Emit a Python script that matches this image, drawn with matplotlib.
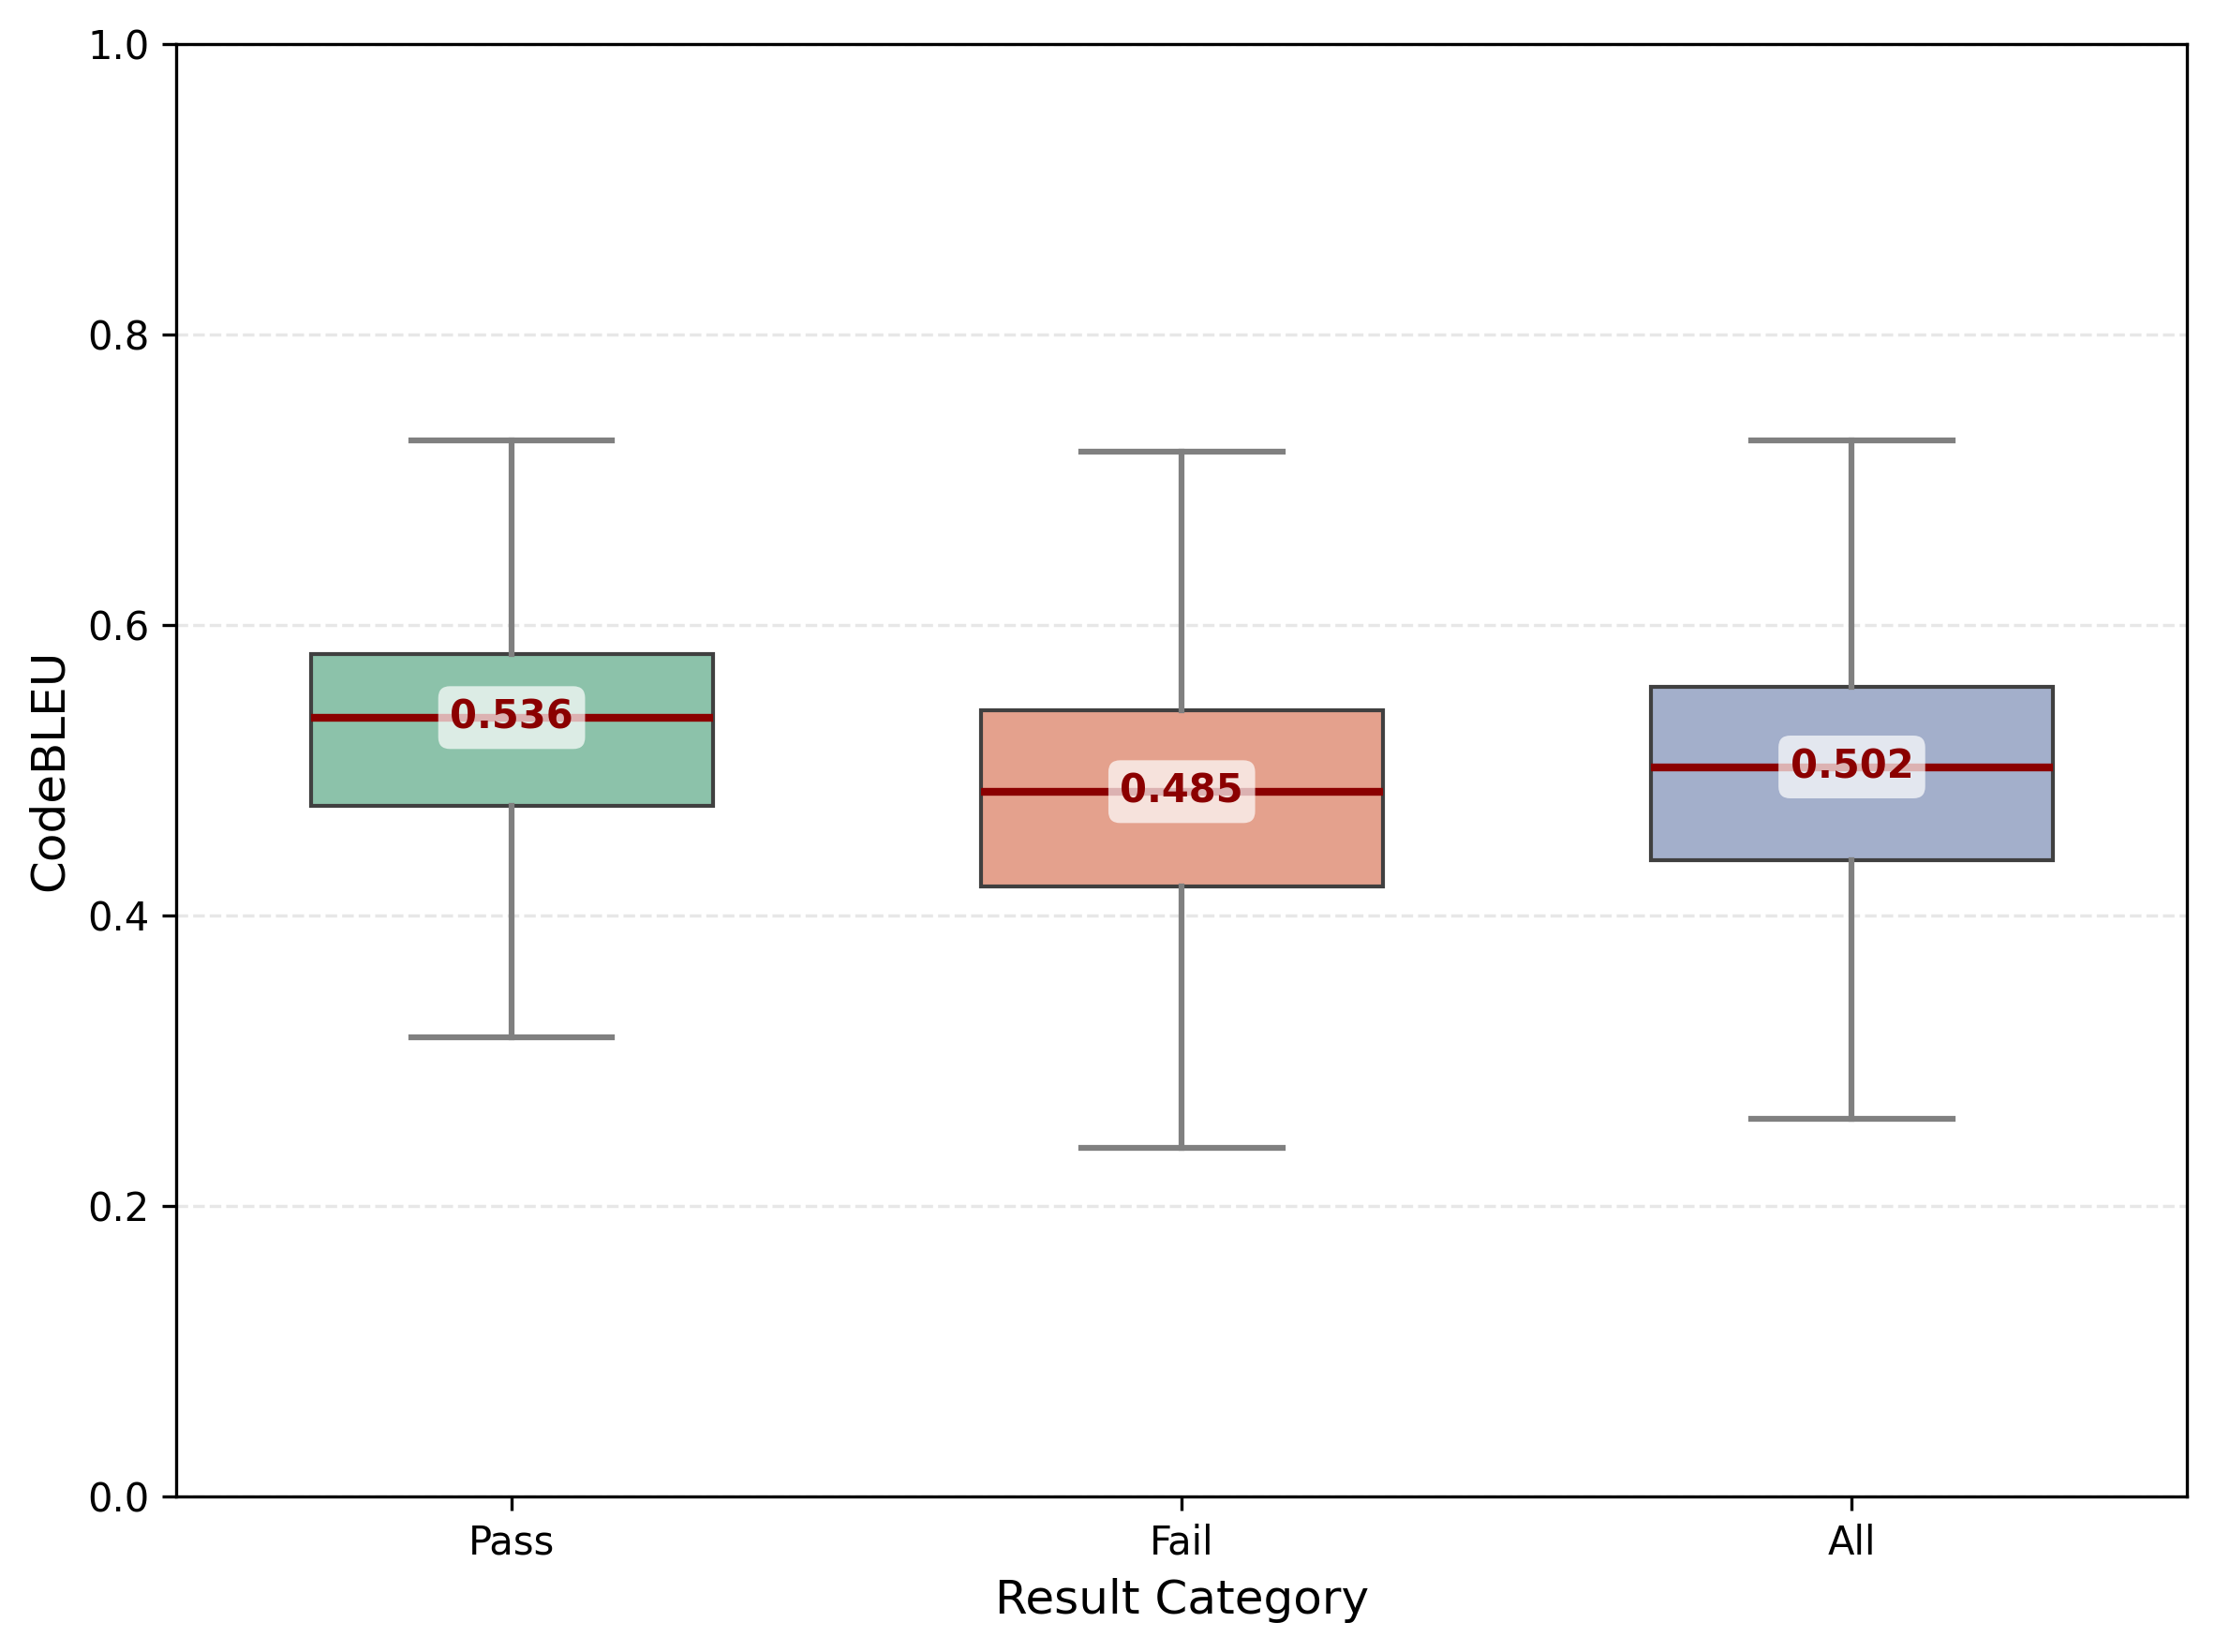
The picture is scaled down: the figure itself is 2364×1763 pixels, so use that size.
import numpy as np
import matplotlib
matplotlib.use('Agg')
from matplotlib import pyplot as plt

# box statistics
categories = ['Pass', 'Fail', 'All']
whisker_low = [0.316, 0.240, 0.260]
q1 = [0.475, 0.420, 0.438]
medians = [0.536, 0.485, 0.502]
q3 = [0.580, 0.541, 0.557]
whisker_high = [0.727, 0.719, 0.727]
box_colors = ['#8cc2aa', '#e4a18d', '#a3afcb']

stats = []
for i, name in enumerate(categories):
    stats.append({'label': name, 'whislo': whisker_low[i], 'q1': q1[i],
                  'med': medians[i], 'q3': q3[i], 'whishi': whisker_high[i],
                  'fliers': []})

W, H = 2364, 1763
fig = plt.figure(figsize=(W / 300, H / 300), dpi=300)
ax = fig.add_axes([188.5 / W, 1 - 1596.5 / H, (2334 - 188.5) / W, (1596.5 - 46.7) / H])

pos = np.arange(len(categories))
bp = ax.bxp(stats, positions=pos, widths=0.6, capwidths=0.3, patch_artist=True,
            showfliers=False,
            boxprops=dict(edgecolor='#404040', linewidth=1.0),
            whiskerprops=dict(color='gray', linewidth=1.5),
            capprops=dict(color='gray', linewidth=1.5),
            medianprops=dict(color='darkred', linewidth=2.0))
for patch, c in zip(bp['boxes'], box_colors):
    patch.set_facecolor(c)

for x, m in zip(pos, medians):
    ax.text(x, m, f'{m:.3f}', ha='center', va='center', fontsize=10,
            fontweight='bold', color='darkred', zorder=5,
            bbox=dict(boxstyle='round,pad=0.3', facecolor='white',
                      edgecolor='none', alpha=0.7))

ax.set_xlim(-0.5, 2.5)
ax.set_ylim(0, 1.0)
ax.set_xticks(pos)
ax.set_xticklabels(categories)
ax.set_xlabel('Result Category', fontsize=12)
ax.set_ylabel('CodeBLEU', fontsize=12)
ax.grid(axis='y', linestyle='--', alpha=0.3)

fig.savefig('out.png', dpi=300)
